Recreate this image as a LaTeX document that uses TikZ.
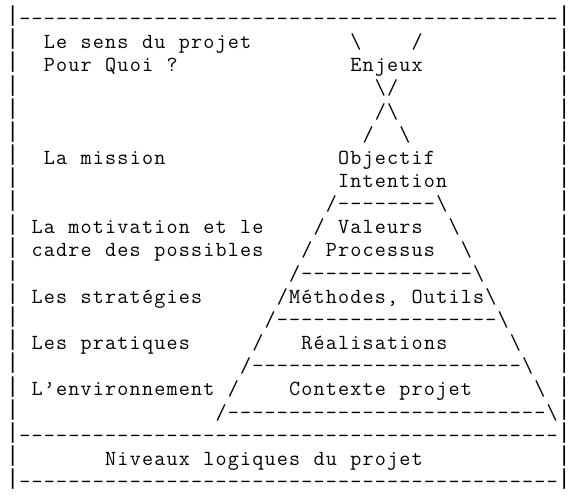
\documentclass[tikz,border=0pt]{standalone}
\usepackage{fontspec}
\newfontfamily\barfont{DejaVu Sans Mono}
\newlength\cellw
\setlength\cellw{12.26pt}
\makeatletter
\def\asc@end{\asc@end}
\newcommand\asciirow[1]{\asc@loop#1\asc@end}
\def\asc@loop#1{\ifx#1\asc@end\else\makebox[\cellw]{#1}\expandafter\asc@loop\fi}
\makeatother
\newcommand\dashcells[1]{\foreach \i in {1,...,#1}{\makebox[\cellw]{-}}}
\newcommand\bsl{\textbackslash}
\newcommand\tallbar{\makebox[\cellw]{\barfont\fontsize{20.5}{24}\selectfont\raisebox{\dimexpr\depth-1pt\relax}{|}}}
\tikzset{asc/.style={anchor=base west, inner sep=0pt, outer sep=0pt,
  font=\ttfamily\fontsize{21.5}{24}\selectfont\addfontfeatures{FakeStretch=1.08,FakeBold=1}, text=black}}
\begin{document}
\begin{tikzpicture}[x=12.26pt, y=-23.15pt]
\useasboundingbox (-0.53589,-1.1015) rectangle (46.446,20.4968);
\fill[white] (-0.53589,-1.1015) rectangle (46.446,20.4968);
% borders
\foreach \r in {0,...,20}{
  \node[asc] (lbar\r) at (0,\r) {\tallbar};
  \node[asc] (rbar\r) at (45,\r) {\tallbar};
}
\node[asc] (topline) at (1,0) {\dashcells{44}};
\node[asc] (midline) at (1,18) {\dashcells{44}};
\node[asc] (botline) at (1,20) {\dashcells{44}};
% left labels
\node[asc] (sens) at (3,1) {\asciirow{Le~sens~du~projet}};
\node[asc] (quoi) at (3,2) {\asciirow{Pour~Quoi~?}};
\node[asc] (mission) at (3,6) {\asciirow{La~mission}};
\node[asc] (motiv) at (2,9) {\asciirow{La~motivation~et~le}};
\node[asc] (cadre) at (2,10) {\asciirow{cadre~des~possibles}};
\node[asc] (strat) at (2,12) {\asciirow{Les~stratégies}};
\node[asc] (prat) at (2,14) {\asciirow{Les~pratiques}};
\node[asc] (envir) at (2,16) {\asciirow{L’environnement}};
% pyramid
\node[asc] (topbs) at (28,1) {\asciirow{\bsl}};
\node[asc] (topsl) at (33,1) {\asciirow{/}};
\node[asc] (enjeux) at (28,2) {\asciirow{Enjeux}};
\node[asc] (cross1) at (30,3) {\asciirow{\bsl/}};
\node[asc] (cross2) at (30,4) {\asciirow{/\bsl}};
\node[asc] (apex) at (29,5) {\asciirow{/~~\bsl}};
\node[asc] (objectif) at (27,6) {\asciirow{Objectif}};
\node[asc] (intention) at (27,7) {\asciirow{Intention}};
\node[asc] (sep1) at (26,8) {\asciirow{/}\dashcells{8}\asciirow{\bsl}};
\node[asc] (valeurs) at (25,9) {\asciirow{/~Valeurs~~\bsl}};
\node[asc] (processus) at (24,10) {\asciirow{/~Processus~~\bsl}};
\node[asc] (sep2) at (23,11) {\asciirow{/}\dashcells{14}\asciirow{\bsl}};
\node[asc] (methodes) at (22,12) {\asciirow{/Méthodes,~Outils\bsl}};
\node[asc] (sep3) at (21,13) {\asciirow{/}\dashcells{18}\asciirow{\bsl}};
\node[asc] (realis) at (20,14) {\asciirow{/~~~Réalisations~~~~~\bsl}};
\node[asc] (sep4) at (19,15) {\asciirow{/}\dashcells{22}\asciirow{\bsl}};
\node[asc] (contexte) at (18,16) {\asciirow{/~~~~Contexte~projet~~~~~\bsl}};
\node[asc] (sep5) at (17,17) {\asciirow{/}\dashcells{26}\asciirow{\bsl}};
% caption
\node[asc] (niveaux) at (8,19) {\asciirow{Niveaux~logiques~du~projet}};
\end{tikzpicture}
\end{document}
